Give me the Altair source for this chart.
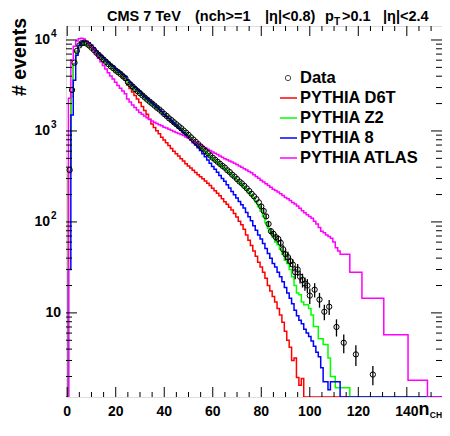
import altair as alt
import pandas as pd

# ---------------- data ----------------
# Data: n_CH (bin centre) and number of events
data_n = list(range(1, 101)) + [102, 104, 106, 108, 111, 114, 119, 126]
data_v = [372, 2820, 5620, 7590, 8710, 9230, 9330, 9120, 8710, 8220,
          7760, 7240, 6840, 6460, 6100, 5750, 5430, 5130, 4900, 4620,
          4420, 4220, 3980, 3800, 3450, 3250, 3080, 2890, 2740, 2600,
          2460, 2330, 2210, 2100, 2000, 1900, 1800, 1720, 1630, 1535,
          1463, 1376, 1315, 1245, 1185, 1124, 1071, 1010, 958, 906,
          851, 804, 759, 716, 676, 638, 603, 569, 537, 507,
          482, 458, 435, 413, 395, 370, 353, 331, 315, 296,
          278, 265, 249, 234, 219, 204, 191, 178, 164, 148,
          132, 115, 95, 79, 74, 68, 65, 59, 50, 44,
          41, 37, 34, 28, 30, 25, 23, 21, 20, 15.5,
          18, 14, 10.3, 11.7, 7, 4.7, 3.5, 2.1]
# error bars of the tail points (n >= 80)
err_n = [80, 81, 82, 83, 84, 85, 86, 87, 88, 89, 90, 91, 92, 93, 94, 95, 96, 97, 98, 99, 100,
         102, 104, 106, 108, 111, 114, 119, 126]
err_v = [8, 8, 7, 7, 6, 6, 6, 6, 6, 6, 6, 6, 5, 5, 4.5, 4.5, 4, 4, 3.5, 3.5, 3,
         3.2, 2.6, 2, 2.2, 1.5, 1.1, 0.9, 0.5]

# MC histograms, bins n = 1, 2, 3, ... (empty bins after the last value)
d6t = [360, 2700, 5500, 7500, 8700, 9200, 9300, 9100, 8700, 8200,
       7760, 7240, 6840, 6460, 6100, 5750, 5430, 5130, 4850, 4570,
       4370, 4170, 3890, 3630, 3200, 2930, 2680, 2450, 2250, 2060,
       1860, 1680, 1525, 1345, 1195, 1095, 1005, 930, 855, 795,
       740, 690, 643, 600, 560, 530, 494, 467, 437, 413,
       391, 370, 350, 331, 314, 298, 282, 267, 251, 235,
       220, 207, 194, 180, 167, 156, 145, 135, 124, 113,
       102, 93, 83, 72, 63, 55, 48, 42, 36, 32,
       28, 24, 20, 17.4, 15.1, 13.2, 11.2, 9.5, 7.9, 6.3,
       5.0, 4.2, 3.0, 3.2, 1.95, 1.6, 1.9]
z2 = [350, 2400, 5400, 7400, 8600, 9100, 9200, 9000, 8650, 8150,
      7700, 7200, 6800, 6420, 6060, 5720, 5400, 5100, 4870, 4600,
      4400, 4200, 3960, 3780, 3430, 3230, 3060, 2870, 2720, 2580,
      2440, 2310, 2190, 2080, 1980, 1880, 1780, 1700, 1610, 1520,
      1445, 1360, 1300, 1230, 1170, 1105, 1055, 993, 940, 888,
      836, 790, 746, 704, 665, 627, 592, 559, 528, 496,
      471, 448, 426, 404, 386, 362, 345, 323, 308, 289,
      272, 258, 242, 228, 212, 197, 182, 164, 148, 132,
      115, 98, 85, 76, 68, 60, 56, 50, 44, 38,
      35, 30, 25, 20, 16.6, 15.8, 13.2, 12.3, 12.3, 11.2,
      9.5, 7.1, 7.1, 5.2, 5.2, 4.5, 4.5, 3.2, 2.0, 2.0,
      1.5, 1.5, 1.5, 1.5, 1.5, 1.5]
py8 = [30, 1500, 3600, 6800, 8700, 9500, 9700, 9600, 9300, 8800,
       8200, 7600, 7150, 6750, 6380, 6020, 5680, 5370, 5130, 4840,
       4630, 4420, 4170, 3980, 3610, 3400, 3210, 3020, 2860, 2720,
       2550, 2410, 2280, 2160, 2050, 1940, 1830, 1730, 1640, 1515,
       1445, 1367, 1289, 1219, 1150, 1080, 1019, 958, 906, 851,
       794, 741, 700, 653, 610, 563, 519, 479, 442, 408,
       379, 351, 323, 300, 280, 257, 236, 216, 199, 183,
       168, 154, 142, 127, 114, 103, 91, 81, 72, 65,
       58, 51, 45, 40, 35, 32, 28, 25, 22, 19,
       16.6, 14.5, 12.6, 10.7, 9.3, 8.3, 7.6, 6.6, 6.0, 5.5,
       4.9, 4.3, 3.7, 3.3, 2.5, 1.75, 1.75, 1.43, 1.75, 1.75,
       1.75, 1.75]
atlas = [2290, 6030, 8510, 9770, 10350, 10470, 10230, 9770, 9120, 8410,
         7670, 7000, 6310, 5750, 5250, 4790, 4370, 4030, 3720, 3430,
         3160, 2950, 2750, 2570, 2250, 2080, 1930, 1810, 1700, 1600,
         1530, 1460, 1395, 1335, 1285, 1245, 1205, 1170, 1140, 1100,
         1075, 1045, 1015, 985, 960, 940, 915, 891, 861, 832,
         804, 776, 750, 724, 700, 676, 653, 631, 610, 589,
         569, 550, 531, 513, 495, 484, 468, 457, 442, 427,
         412, 398, 385, 372, 359, 347, 331, 316, 302, 288,
         275, 263, 251, 240, 229, 221, 214, 204, 195, 186,
         180, 172, 164, 157, 150, 141, 133, 126, 120, 115,
         110, 102, 95, 87, 79, 76, 72, 69, 66, 60,
         52, 48, 44, 44, 44, 44, 28, 28, 28, 28,
         28, 14.5, 14.5, 14.5, 14.5, 14.5, 14.5, 14.5, 14.5, 14.5,
         5.75, 5.75, 5.75, 5.75, 5.75, 5.75, 5.75, 5.75, 5.75, 5.75,
         1.82, 1.82, 1.82, 1.82, 1.82, 1.82, 1.82, 1.82]

series_names = ["PYTHIA D6T", "PYTHIA Z2", "PYTHIA 8", "PYTHIA ATLAS"]
series_colors = ["#ff0000", "#00ff00", "#0000ff", "#ff00ff"]
series_vals = [d6t, z2, py8, atlas]

x_labels = [0, 20, 40, 60, 80, 100, 120, 140]
y_decades = [10, 100, 1000, 10000]
y_exps = ["", "2", "3", "4"]

# ---------------- geometry / styles ----------------
W, H = 376, 371
NMAX = 154
FONT = "Liberation Sans"
xs = alt.Scale(domain=[-0.5, NMAX + 0.5], nice=False, zero=False)
ys = alt.Scale(type="log", domain=[1.19, 14250], nice=False, clamp=True)


def hist_frame(vals):
    v = [0] + list(vals) + [0] * (NMAX - len(vals))
    xe = [i - 0.5 for i in range(len(v))] + [NMAX + 0.5]
    v = v + [v[-1]]
    return pd.DataFrame({"x": xe, "v": v})


layers = []
for vals, col in zip(series_vals, series_colors):
    layers.append(
        alt.Chart(hist_frame(vals))
        .transform_calculate(yv="max(datum.v, 0.5)")
        .mark_line(interpolate="step-after", color=col, strokeWidth=1.5, clip=True)
        .encode(x=alt.X("x:Q", scale=xs, axis=None), y=alt.Y("yv:Q", scale=ys, axis=None))
    )

ddf = pd.DataFrame({"n": data_n, "v": data_v})
edf = pd.DataFrame({"n": err_n, "v": [data_v[data_n.index(k)] for k in err_n], "e": err_v})
edf["lo"] = edf["v"] - edf["e"]
edf["hi"] = edf["v"] + edf["e"]

layers.append(
    alt.Chart(edf).mark_rule(color="black", strokeWidth=1.3, clip=True).encode(
        x=alt.X("n:Q", scale=xs, axis=None),
        y=alt.Y("lo:Q", scale=ys, axis=None),
        y2="hi:Q",
    )
)
layers.append(
    alt.Chart(ddf).mark_point(shape="circle", filled=False, stroke="black",
                              strokeWidth=1, size=28, opacity=1, clip=True).encode(
        x=alt.X("n:Q", scale=xs, axis=None),
        y=alt.Y("v:Q", scale=ys, axis=None),
    )
)

# ---------------- ticks (inside the frame, ROOT style) ----------------
x_major = pd.DataFrame({"t": list(range(0, 141, 20))})
x_minor = pd.DataFrame({"t": [t for t in range(5, 151, 5) if t % 20 != 0]})
y_major = pd.DataFrame({"t": y_decades})
y_minor = pd.DataFrame({"t": [m * d for d in [1, 10, 100, 1000] for m in range(2, 10)]})

for df, ln in [(x_major, 10), (x_minor, 5)]:
    layers.append(alt.Chart(df).mark_rule(color="black", strokeWidth=1).encode(
        x=alt.X("t:Q", scale=xs, axis=None), y=alt.value(H), y2=alt.value(H - ln)))
    layers.append(alt.Chart(df).mark_rule(color="black", strokeWidth=1).encode(
        x=alt.X("t:Q", scale=xs, axis=None), y=alt.value(0), y2=alt.value(ln)))
for df, ln in [(y_major, 11), (y_minor, 6)]:
    layers.append(alt.Chart(df).mark_rule(color="black", strokeWidth=1).encode(
        y=alt.Y("t:Q", scale=ys, axis=None), x=alt.value(0), x2=alt.value(ln)))
    layers.append(alt.Chart(df).mark_rule(color="black", strokeWidth=1).encode(
        y=alt.Y("t:Q", scale=ys, axis=None), x=alt.value(W), x2=alt.value(W - ln)))

# ---------------- tick labels ----------------
layers.append(alt.Chart(pd.DataFrame({"t": x_labels})).mark_text(
    font=FONT, fontWeight="bold", fontSize=14, baseline="top", align="center").encode(
    x=alt.X("t:Q", scale=xs, axis=None), y=alt.value(H + 8), text="t:Q"))

ydf = pd.DataFrame({"t": y_decades, "e": y_exps, "has": [0, 1, 1, 1]})
layers.append(alt.Chart(ydf).transform_filter("datum.has == 1").mark_text(
    font=FONT, fontWeight="bold", fontSize=14, baseline="middle", align="right").encode(
    y=alt.Y("t:Q", scale=ys, axis=None), x=alt.value(-16), text=alt.value("10")))
layers.append(alt.Chart(ydf).transform_filter("datum.has == 1").mark_text(
    font=FONT, fontWeight="bold", fontSize=10, baseline="middle", align="left", dy=-6).encode(
    y=alt.Y("t:Q", scale=ys, axis=None), x=alt.value(-15), text="e:N"))
layers.append(alt.Chart(ydf).transform_filter("datum.has == 0").mark_text(
    font=FONT, fontWeight="bold", fontSize=14, baseline="middle", align="right").encode(
    y=alt.Y("t:Q", scale=ys, axis=None), x=alt.value(-5), text=alt.value("10")))


# ---------------- titles ----------------
def label(txt, x, y, size, align="left", baseline="alphabetic", angle=0):
    return alt.Chart(pd.DataFrame({"s": [txt]})).mark_text(
        font=FONT, fontWeight="bold", fontSize=size, align=align, baseline=baseline,
        angle=angle, color="black").encode(x=alt.value(x), y=alt.value(y), text="s:N")


layers.append(label("CMS 7 TeV", 41, -5, 14.5))
layers.append(label("(nch>=1", 129, -5, 14.5))
layers.append(label("|\u03b7|<0.8)", 199, -5, 14.5))
layers.append(label("p", 259, -5, 14.5))
layers.append(label("T", 268, -1, 10))
layers.append(label(">0.1", 276, -5, 14.5))
layers.append(label("|\u03b7|<2.4", 317, -5, 14.5))
layers.append(label("# events", -40, -8, 19.5, align="right", baseline="alphabetic", angle=270))
layers.append(label("n", 352.5, 389, 18))
layers.append(label("CH", 363.8, 392, 8.5))

# ---------------- legend ----------------
leg_y0, leg_dy = 52, 20
leg = pd.DataFrame({"name": ["Data"] + series_names,
                    "color": ["black"] + series_colors})
leg["row"] = range(len(leg))
leg["py"] = leg_y0 + leg_dy * leg["row"]
layers.append(alt.Chart(leg).mark_text(font=FONT, fontWeight="bold", fontSize=16.5,
                                       align="left", baseline="middle").encode(
    x=alt.value(234), y=alt.Y("py:Q", scale=None), text="name:N"))
layers.append(alt.Chart(leg[leg.row == 0]).mark_point(shape="circle", filled=False,
                                                      stroke="black", strokeWidth=1, size=28).encode(
    x=alt.value(222), y=alt.Y("py:Q", scale=None)))
legl = leg[leg.row > 0]
layers.append(alt.Chart(legl).mark_rule(strokeWidth=1.5).encode(
    x=alt.value(214), x2=alt.value(231), y=alt.Y("py:Q", scale=None),
    color=alt.Color("color:N", scale=None)))

chart = alt.layer(*layers).properties(
    width=W, height=H,
    autosize=alt.AutoSizeParams(type="none"),
    padding={"left": 58, "top": 18, "right": 0, "bottom": 25},
).configure_view(stroke="black", strokeWidth=2).configure(background="white")

chart.save("out.html", embed_options={"renderer": "svg", "actions": False})
